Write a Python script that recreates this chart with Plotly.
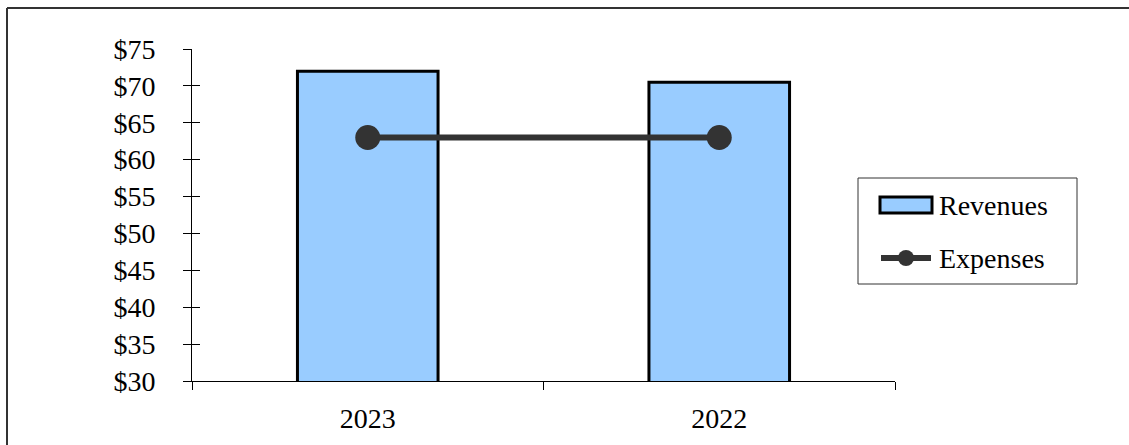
import plotly.graph_objects as go

years = ["2023", "2022"]
revenues = [72.0, 70.5]
expenses = [63.0, 63.0]
y_ticks = [30, 35, 40, 45, 50, 55, 60, 65, 70, 75]
y_tick_text = ["$" + str(v) for v in y_ticks]
series_names = ["Revenues", "Expenses"]

W, H = 1129, 445
L, R, T, B = 192, 234, 49, 64
PW, PH = W - L - R, H - T - B
FONT = "Times New Roman"
FS = 28
BAR_FILL = "#99CCFF"
LINE_COL = "#333333"


def px(x):
    return (x - L) / PW


def py(y):
    return (H - B - y) / PH


fig = go.Figure()
fig.add_trace(go.Bar(
    x=years, y=revenues, name=series_names[0], width=0.4,
    marker=dict(color=BAR_FILL, line=dict(color="#000000", width=3)),
    showlegend=False,
))
fig.add_trace(go.Scatter(
    x=years, y=expenses, name=series_names[1], mode="lines+markers",
    line=dict(color=LINE_COL, width=6),
    marker=dict(color=LINE_COL, size=25),
    showlegend=False,
))
# invisible trace carrying the inner half of the y tick marks
fig.add_trace(go.Scatter(x=years, y=expenses, yaxis="y2", mode="markers",
                         marker=dict(opacity=0), showlegend=False, hoverinfo="skip"))

shapes = [
    # outer frame (top and left edges visible)
    dict(type="line", xref="paper", yref="paper",
         x0=px(7), x1=px(W + 5), y0=py(8), y1=py(8),
         line=dict(color=LINE_COL, width=2)),
    dict(type="line", xref="paper", yref="paper",
         x0=px(7), x1=px(7), y0=py(8), y1=py(H + 5),
         line=dict(color=LINE_COL, width=2)),
    # legend box
    dict(type="rect", xref="paper", yref="paper",
         x0=px(858), x1=px(1077), y0=py(178), y1=py(284),
         line=dict(color=LINE_COL, width=1), fillcolor="white", layer="above"),
    # Revenues swatch
    dict(type="rect", xref="paper", yref="paper",
         x0=px(880), x1=px(932), y0=py(197), y1=py(213),
         line=dict(color="#000000", width=3), fillcolor=BAR_FILL, layer="above"),
    # Expenses line swatch
    dict(type="line", xref="paper", yref="paper",
         x0=px(881), x1=px(931), y0=py(258), y1=py(258),
         line=dict(color=LINE_COL, width=6), layer="above"),
    dict(type="circle", xref="paper", yref="paper",
         x0=px(898), x1=px(914), y0=py(250), y1=py(266),
         line=dict(color=LINE_COL, width=0), fillcolor=LINE_COL, layer="above"),
]

annotations = [
    dict(text=series_names[0], xref="paper", yref="paper", x=px(937), y=py(205),
         xanchor="left", yanchor="middle", showarrow=False,
         font=dict(family=FONT, size=FS, color="#000000")),
    dict(text=series_names[1], xref="paper", yref="paper", x=px(937), y=py(258),
         xanchor="left", yanchor="middle", showarrow=False,
         font=dict(family=FONT, size=FS, color="#000000")),
]

fig.update_layout(
    width=W, height=H,
    margin=dict(l=L, r=R, t=T, b=B),
    paper_bgcolor="white", plot_bgcolor="white",
    font=dict(family=FONT, size=FS, color="#000000"),
    showlegend=False,
    xaxis=dict(
        type="category", showgrid=False, showline=True, linecolor="#000000", linewidth=1,
        ticks="outside", ticklen=8, tickcolor="#000000", tickson="boundaries",
        tickfont=dict(family=FONT, size=FS, color="#000000"), ticklabelstandoff=12,
        zeroline=False,
    ),
    yaxis=dict(
        range=[30, 75], tickmode="array", tickvals=y_ticks, ticktext=y_tick_text,
        showgrid=False, showline=True, linecolor="#000000", linewidth=1,
        ticks="outside", ticklen=8, tickcolor="#000000",
        tickfont=dict(family=FONT, size=FS, color="#000000"), ticklabelstandoff=22,
        zeroline=False,
    ),
    yaxis2=dict(
        range=[30, 75], tickmode="array", tickvals=y_ticks, overlaying="y", side="left",
        showticklabels=False, showgrid=False, showline=False,
        ticks="inside", ticklen=8, tickcolor="#000000", zeroline=False,
    ),
    shapes=shapes,
    annotations=annotations,
)

fig.write_html("out.html")
